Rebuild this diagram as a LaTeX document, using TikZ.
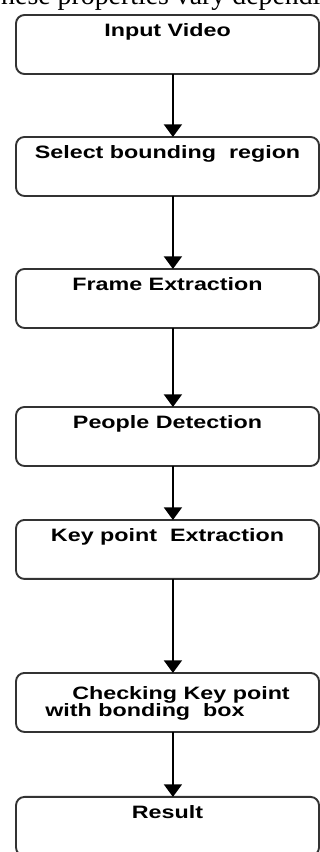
\documentclass[tikz,border=0pt]{standalone}
\usepackage{fontspec}
\setmainfont{Liberation Serif}
\newfontfamily\boxfont[FakeStretch=1.3]{Liberation Sans}
\usepackage{tikz}
\usetikzlibrary{arrows.meta}
\usetikzlibrary{positioning}

\begin{document}
\begin{tikzpicture}[
    stage/.style={draw=black!80, line width=0.9pt, rounded corners=4pt, outer sep=0pt,
        minimum width=5.05cm, inner xsep=0pt, inner ysep=0pt,
        text height=0.365cm, text depth=0.618cm, align=center,
        font=\boxfont\bfseries\fontsize{8.5}{8.2}\selectfont},
    flow/.style={-{Triangle[width=8.5pt,length=6pt]}, line width=1pt}
]
    \useasboundingbox (0,0) rectangle (5.333,-14.2);
    \clip (0,0) rectangle (5.333,-14.2);
    \node[anchor=base west, inner sep=0pt, font=\fontsize{13.2}{16}\selectfont] (line) at (-0.27,-0.075) {These properties vary depending};
    \node[stage, anchor=north west] (input) at (0.267,-0.25) {Input Video};
    \node[stage, below=1.05cm of input] (select) {Select bounding\ \ region};
    \node[stage, below=1.217cm of select] (frame) {Frame Extraction};
    \node[stage, below=1.317cm of frame] (people) {People Detection};
    \node[stage, below=0.9cm of people] (keypoint) {Key point\ \ Extraction};
    \node[stage, below=1.567cm of keypoint, align=left, text height=0.728cm, text depth=0.255cm] (check)
        {\hspace*{12.8pt}Checking Key point\\with bonding\ \ box};
    \node[stage, below=1.083cm of check] (result) {Result};
    \foreach \a/\b in {input/select, select/frame, frame/people, people/keypoint, keypoint/check, check/result}
        \draw[flow] ([xshift=0.09cm]\a.south) -- ([xshift=0.09cm]\b.north);
\end{tikzpicture}
\end{document}
